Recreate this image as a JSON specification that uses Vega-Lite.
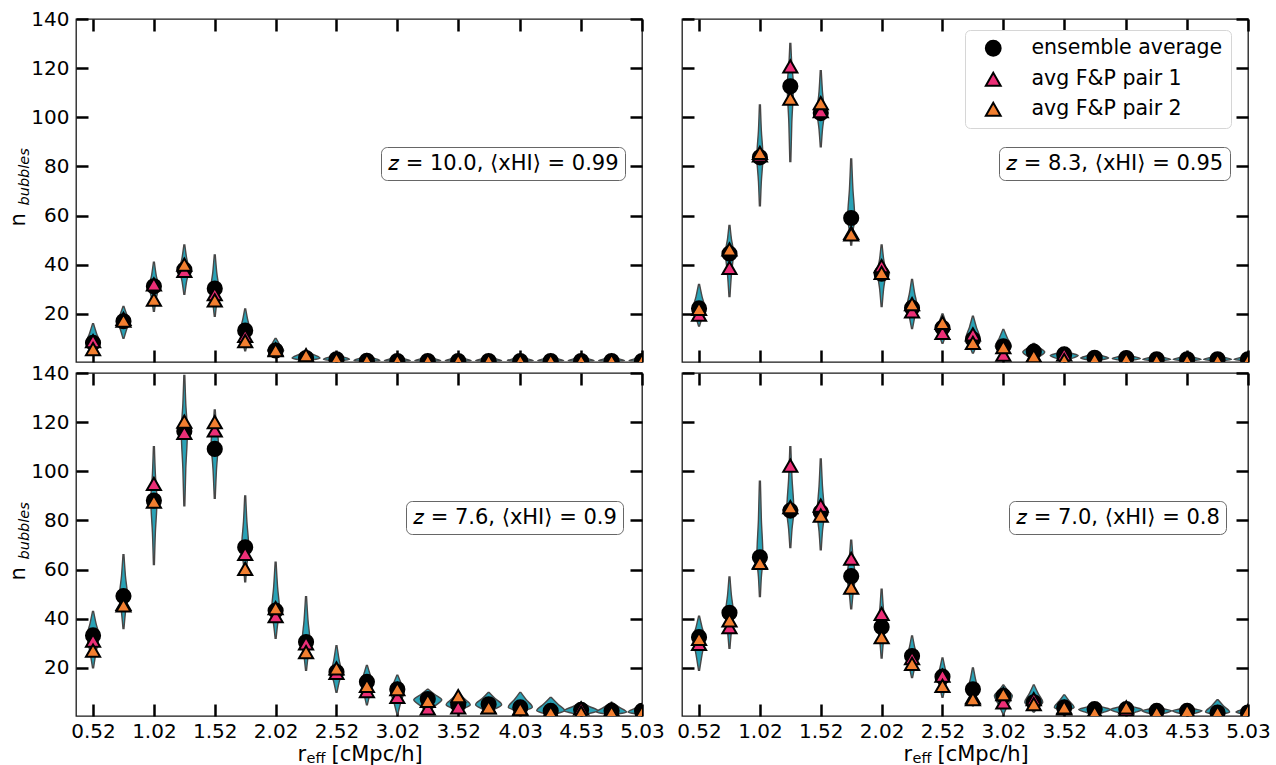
{
  "$schema": "https://vega.github.io/schema/vega-lite/v6.json",
  "background": "white",
  "padding": {"left": 6, "top": 8, "right": 3, "bottom": 0},
  "bounds": "flush",
  "columns": 2,
  "spacing": {"row": 11, "column": 40},
  "datasets": {
    "panels": [
      {"p":"a","lab":"𝑧 = 10.0, ⟨xHI⟩ = 0.99"},
      {"p":"b","lab":"𝑧 = 8.3, ⟨xHI⟩ = 0.95"},
      {"p":"c","lab":"𝑧 = 7.6, ⟨xHI⟩ = 0.9"},
      {"p":"d","lab":"𝑧 = 7.0, ⟨xHI⟩ = 0.8"}
    ],
    "violins": [
      {"p":"a","r":0.52,"vy":[3.5,5.75,8,12,16],"vw":[0.004,0.029,0.058,0.029,0.004]},
      {"p":"a","r":0.77,"vy":[10,13.5,17,20,23],"vw":[0.004,0.025,0.049,0.025,0.004]},
      {"p":"a","r":1.02,"vy":[21,26,31,36,41],"vw":[0.004,0.018,0.037,0.018,0.004]},
      {"p":"a","r":1.27,"vy":[28,33,38,43,48],"vw":[0.004,0.018,0.037,0.018,0.004]},
      {"p":"a","r":1.52,"vy":[19,24.5,30,37,44],"vw":[0.004,0.016,0.033,0.016,0.004]},
      {"p":"a","r":1.77,"vy":[5,9,13,17.5,22],"vw":[0.004,0.021,0.041,0.021,0.004]},
      {"p":"a","r":2.02,"vy":[2.5,3.75,5,7.5,10],"vw":[0.004,0.033,0.066,0.033,0.004]},
      {"p":"a","r":2.27,"vy":[0.5,1.25,2,3.5,5],"vw":[0.004,0.058,0.115,0.058,0.004]},
      {"p":"a","r":2.52,"vy":[0.5,1,1.5,2.5,3.5],"vw":[0.004,0.053,0.107,0.053,0.004]},
      {"p":"a","r":2.77,"vy":[0.5,0.75,1,2,3],"vw":[0.004,0.053,0.107,0.053,0.004]},
      {"p":"a","r":3.02,"vy":[0.5,0.75,1,1.75,2.5],"vw":[0.004,0.053,0.107,0.053,0.004]},
      {"p":"a","r":3.27,"vy":[0.5,0.75,1,1.75,2.5],"vw":[0.004,0.053,0.107,0.053,0.004]},
      {"p":"a","r":3.52,"vy":[0.5,0.75,1,1.75,2.5],"vw":[0.004,0.053,0.107,0.053,0.004]},
      {"p":"a","r":3.77,"vy":[0.5,0.75,1,1.75,2.5],"vw":[0.004,0.053,0.107,0.053,0.004]},
      {"p":"a","r":4.03,"vy":[0.5,0.75,1,1.75,2.5],"vw":[0.004,0.053,0.107,0.053,0.004]},
      {"p":"a","r":4.28,"vy":[0.5,0.75,1,1.75,2.5],"vw":[0.004,0.053,0.107,0.053,0.004]},
      {"p":"a","r":4.53,"vy":[0.5,0.75,1,1.75,2.5],"vw":[0.004,0.053,0.107,0.053,0.004]},
      {"p":"a","r":4.78,"vy":[0.5,0.75,1,1.75,2.5],"vw":[0.004,0.053,0.107,0.053,0.004]},
      {"p":"a","r":5.03,"vy":[0.5,0.75,1,1.75,2.5],"vw":[0.004,0.053,0.107,0.053,0.004]},

      {"p":"b","r":0.52,"vy":[15,18.5,22,27,32],"vw":[0.004,0.025,0.049,0.025,0.004]},
      {"p":"b","r":0.77,"vy":[27,36,45,50.5,56],"vw":[0.004,0.016,0.033,0.016,0.004]},
      {"p":"b","r":1.02,"vy":[64,74,84,94.5,105],"vw":[0.004,0.012,0.025,0.012,0.004]},
      {"p":"b","r":1.27,"vy":[82,97.5,113,121.5,130],"vw":[0.004,0.012,0.025,0.012,0.004]},
      {"p":"b","r":1.52,"vy":[88,95,102,110.5,119],"vw":[0.004,0.014,0.029,0.014,0.004]},
      {"p":"b","r":1.77,"vy":[48,53.5,59,71,83],"vw":[0.004,0.014,0.029,0.014,0.004]},
      {"p":"b","r":2.02,"vy":[23,30,37,42.5,48],"vw":[0.004,0.016,0.033,0.016,0.004]},
      {"p":"b","r":2.27,"vy":[14,18.5,23,28.5,34],"vw":[0.004,0.021,0.041,0.021,0.004]},
      {"p":"b","r":2.52,"vy":[8,11,14,17,20],"vw":[0.004,0.025,0.049,0.025,0.004]},
      {"p":"b","r":2.77,"vy":[4,7,10,14.5,19],"vw":[0.004,0.029,0.058,0.029,0.004]},
      {"p":"b","r":3.02,"vy":[1.4,4.1,6.8,10.2,13.6],"vw":[0.004,0.033,0.066,0.033,0.004]},
      {"p":"b","r":3.27,"vy":[0.5,2.5,4.5,6.25,8],"vw":[0.004,0.045,0.09,0.045,0.004]},
      {"p":"b","r":3.52,"vy":[0.5,1.75,3,4,5],"vw":[0.004,0.058,0.115,0.058,0.004]},
      {"p":"b","r":3.77,"vy":[0.5,1.25,2,3,4],"vw":[0.004,0.058,0.115,0.058,0.004]},
      {"p":"b","r":4.03,"vy":[0.5,1.15,1.8,2.65,3.5],"vw":[0.004,0.058,0.115,0.058,0.004]},
      {"p":"b","r":4.28,"vy":[0.5,1,1.5,2.25,3],"vw":[0.004,0.058,0.115,0.058,0.004]},
      {"p":"b","r":4.53,"vy":[0.5,1,1.5,2.25,3],"vw":[0.004,0.058,0.115,0.058,0.004]},
      {"p":"b","r":4.78,"vy":[0.5,1,1.5,2.25,3],"vw":[0.004,0.058,0.115,0.058,0.004]},
      {"p":"b","r":5.03,"vy":[0.5,1,1.5,2.25,3],"vw":[0.004,0.058,0.115,0.058,0.004]},

      {"p":"c","r":0.52,"vy":[20,26.5,33,38,43],"vw":[0.004,0.025,0.049,0.025,0.004]},
      {"p":"c","r":0.77,"vy":[36,42.5,49,57.5,66],"vw":[0.004,0.016,0.033,0.016,0.004]},
      {"p":"c","r":1.02,"vy":[62,75,88,99,110],"vw":[0.004,0.012,0.025,0.012,0.004]},
      {"p":"c","r":1.27,"vy":[86,101,116,127.5,139],"vw":[0.004,0.012,0.025,0.012,0.004]},
      {"p":"c","r":1.52,"vy":[89,100.5,112,118.5,125],"vw":[0.004,0.014,0.029,0.014,0.004]},
      {"p":"c","r":1.77,"vy":[55,62,69,79.5,90],"vw":[0.004,0.014,0.029,0.014,0.004]},
      {"p":"c","r":2.02,"vy":[32,37.5,43,53,63],"vw":[0.004,0.016,0.033,0.016,0.004]},
      {"p":"c","r":2.27,"vy":[19,24.5,30,39.5,49],"vw":[0.004,0.016,0.033,0.016,0.004]},
      {"p":"c","r":2.52,"vy":[10,14,18,23.5,29],"vw":[0.004,0.021,0.041,0.021,0.004]},
      {"p":"c","r":2.77,"vy":[5,9.5,14,17.5,21],"vw":[0.004,0.025,0.049,0.025,0.004]},
      {"p":"c","r":3.02,"vy":[1.2,6.1,11,14,17],"vw":[0.004,0.029,0.058,0.029,0.004]},
      {"p":"c","r":3.27,"vy":[2,4.5,7,9.15,11.3],"vw":[0.004,0.058,0.115,0.058,0.004]},
      {"p":"c","r":3.52,"vy":[2,3.5,5,7.5,10],"vw":[0.004,0.049,0.099,0.049,0.004]},
      {"p":"c","r":3.77,"vy":[1.5,3.25,5,7.5,10],"vw":[0.004,0.053,0.107,0.053,0.004]},
      {"p":"c","r":4.03,"vy":[1.5,2.75,4,7,10],"vw":[0.004,0.049,0.099,0.049,0.004]},
      {"p":"c","r":4.28,"vy":[0.5,1.5,2.5,5.25,8],"vw":[0.004,0.058,0.115,0.058,0.004]},
      {"p":"c","r":4.53,"vy":[0.5,1.5,2.5,4.25,6],"vw":[0.004,0.07,0.14,0.07,0.004]},
      {"p":"c","r":4.78,"vy":[0.5,1.25,2,4,6],"vw":[0.004,0.062,0.123,0.062,0.004]},
      {"p":"c","r":5.03,"vy":[0.5,1.25,2,3.5,5],"vw":[0.004,0.058,0.115,0.058,0.004]},

      {"p":"d","r":0.52,"vy":[19,25.5,32,36.5,41],"vw":[0.004,0.025,0.049,0.025,0.004]},
      {"p":"d","r":0.77,"vy":[28,35,42,49.5,57],"vw":[0.004,0.016,0.033,0.016,0.004]},
      {"p":"d","r":1.02,"vy":[49,57,65,80.5,96],"vw":[0.004,0.012,0.025,0.012,0.004]},
      {"p":"d","r":1.27,"vy":[69,76.5,84,97,110],"vw":[0.004,0.014,0.029,0.014,0.004]},
      {"p":"d","r":1.52,"vy":[68,75.5,83,94,105],"vw":[0.004,0.014,0.029,0.014,0.004]},
      {"p":"d","r":1.77,"vy":[44,50.5,57,64.5,72],"vw":[0.004,0.016,0.033,0.016,0.004]},
      {"p":"d","r":2.02,"vy":[24,30.5,37,44.5,52],"vw":[0.004,0.014,0.029,0.014,0.004]},
      {"p":"d","r":2.27,"vy":[16,20,24,28.5,33],"vw":[0.004,0.021,0.041,0.021,0.004]},
      {"p":"d","r":2.52,"vy":[8,12,16,20,24],"vw":[0.004,0.021,0.041,0.021,0.004]},
      {"p":"d","r":2.77,"vy":[4.6,7.8,11,15.5,20],"vw":[0.004,0.021,0.041,0.021,0.004]},
      {"p":"d","r":3.02,"vy":[1.2,4.9,8.6,10.8,13],"vw":[0.004,0.037,0.074,0.037,0.004]},
      {"p":"d","r":3.27,"vy":[2,4,6,9.5,13],"vw":[0.004,0.037,0.074,0.037,0.004]},
      {"p":"d","r":3.52,"vy":[1.5,2.75,4,6.5,9],"vw":[0.004,0.041,0.082,0.041,0.004]},
      {"p":"d","r":3.77,"vy":[0.5,1.75,3,4,5],"vw":[0.004,0.066,0.131,0.066,0.004]},
      {"p":"d","r":4.03,"vy":[0.5,1.75,3,4,5],"vw":[0.004,0.066,0.131,0.066,0.004]},
      {"p":"d","r":4.28,"vy":[0.5,1.5,2.5,3.25,4],"vw":[0.004,0.062,0.123,0.062,0.004]},
      {"p":"d","r":4.53,"vy":[0.5,1.5,2.5,3.25,4],"vw":[0.004,0.062,0.123,0.062,0.004]},
      {"p":"d","r":4.78,"vy":[0.5,1.25,2,4.5,7],"vw":[0.004,0.049,0.099,0.049,0.004]},
      {"p":"d","r":5.03,"vy":[0.5,1.25,2,3,4],"vw":[0.004,0.049,0.099,0.049,0.004]}
    ],
    "markers": [
      {"p":"a","r":0.52,"ensemble average":8.2,"avg F&P pair 1":8.9,"avg F&P pair 2":5.6},
      {"p":"a","r":0.77,"ensemble average":17,"avg F&P pair 1":18,"avg F&P pair 2":17.2},
      {"p":"a","r":1.02,"ensemble average":31.2,"avg F&P pair 1":32,"avg F&P pair 2":25.8},
      {"p":"a","r":1.27,"ensemble average":38,"avg F&P pair 1":37.5,"avg F&P pair 2":40},
      {"p":"a","r":1.52,"ensemble average":30.3,"avg F&P pair 1":28,"avg F&P pair 2":25.5},
      {"p":"a","r":1.77,"ensemble average":13.2,"avg F&P pair 1":11,"avg F&P pair 2":8.9},
      {"p":"a","r":2.02,"ensemble average":5.1,"avg F&P pair 1":5.5,"avg F&P pair 2":5.2},
      {"p":"a","r":2.27,"ensemble average":2,"avg F&P pair 1":1,"avg F&P pair 2":3.2},
      {"p":"a","r":2.52,"ensemble average":1.5,"avg F&P pair 1":1,"avg F&P pair 2":1.6},
      {"p":"a","r":2.77,"ensemble average":0.9,"avg F&P pair 1":0.7,"avg F&P pair 2":1},
      {"p":"a","r":3.02,"ensemble average":0.8,"avg F&P pair 1":0.6,"avg F&P pair 2":0.9},
      {"p":"a","r":3.27,"ensemble average":0.8,"avg F&P pair 1":0.6,"avg F&P pair 2":0.9},
      {"p":"a","r":3.52,"ensemble average":0.8,"avg F&P pair 1":0.6,"avg F&P pair 2":0.9},
      {"p":"a","r":3.77,"ensemble average":0.8,"avg F&P pair 1":0.6,"avg F&P pair 2":0.9},
      {"p":"a","r":4.03,"ensemble average":0.8,"avg F&P pair 1":0.6,"avg F&P pair 2":0.9},
      {"p":"a","r":4.28,"ensemble average":0.8,"avg F&P pair 1":0.6,"avg F&P pair 2":0.9},
      {"p":"a","r":4.53,"ensemble average":0.8,"avg F&P pair 1":0.6,"avg F&P pair 2":0.9},
      {"p":"a","r":4.78,"ensemble average":0.8,"avg F&P pair 1":0.6,"avg F&P pair 2":0.9},
      {"p":"a","r":5.03,"ensemble average":0.8,"avg F&P pair 1":0.6,"avg F&P pair 2":0.9},

      {"p":"b","r":0.52,"ensemble average":22.2,"avg F&P pair 1":19.7,"avg F&P pair 2":22},
      {"p":"b","r":0.77,"ensemble average":44.5,"avg F&P pair 1":38.7,"avg F&P pair 2":46.2},
      {"p":"b","r":1.02,"ensemble average":83.7,"avg F&P pair 1":84.5,"avg F&P pair 2":85.5},
      {"p":"b","r":1.27,"ensemble average":112.6,"avg F&P pair 1":120.7,"avg F&P pair 2":107.6},
      {"p":"b","r":1.52,"ensemble average":101.7,"avg F&P pair 1":102.5,"avg F&P pair 2":105.8},
      {"p":"b","r":1.77,"ensemble average":59,"avg F&P pair 1":53,"avg F&P pair 2":52.3},
      {"p":"b","r":2.02,"ensemble average":36.3,"avg F&P pair 1":39.4,"avg F&P pair 2":36.7},
      {"p":"b","r":2.27,"ensemble average":22.4,"avg F&P pair 1":21,"avg F&P pair 2":24},
      {"p":"b","r":2.52,"ensemble average":14.3,"avg F&P pair 1":12.3,"avg F&P pair 2":16.3},
      {"p":"b","r":2.77,"ensemble average":9.6,"avg F&P pair 1":11.6,"avg F&P pair 2":8.2},
      {"p":"b","r":3.02,"ensemble average":6.8,"avg F&P pair 1":3.4,"avg F&P pair 2":6.5},
      {"p":"b","r":3.27,"ensemble average":4.6,"avg F&P pair 1":3,"avg F&P pair 2":2.8},
      {"p":"b","r":3.52,"ensemble average":3.5,"avg F&P pair 1":3.5,"avg F&P pair 2":1.2},
      {"p":"b","r":3.77,"ensemble average":2.1,"avg F&P pair 1":1.6,"avg F&P pair 2":1.5},
      {"p":"b","r":4.03,"ensemble average":2,"avg F&P pair 1":1.5,"avg F&P pair 2":1.5},
      {"p":"b","r":4.28,"ensemble average":1.5,"avg F&P pair 1":1.2,"avg F&P pair 2":1},
      {"p":"b","r":4.53,"ensemble average":1.5,"avg F&P pair 1":1.2,"avg F&P pair 2":1},
      {"p":"b","r":4.78,"ensemble average":1.5,"avg F&P pair 1":1.2,"avg F&P pair 2":1},
      {"p":"b","r":5.03,"ensemble average":1.5,"avg F&P pair 1":1.2,"avg F&P pair 2":1},

      {"p":"c","r":0.52,"ensemble average":33.2,"avg F&P pair 1":31.1,"avg F&P pair 2":27},
      {"p":"c","r":0.77,"ensemble average":49.2,"avg F&P pair 1":46,"avg F&P pair 2":45.4},
      {"p":"c","r":1.02,"ensemble average":88.1,"avg F&P pair 1":94.9,"avg F&P pair 2":87.7},
      {"p":"c","r":1.27,"ensemble average":116.3,"avg F&P pair 1":115.6,"avg F&P pair 2":120.2},
      {"p":"c","r":1.52,"ensemble average":109.1,"avg F&P pair 1":116.6,"avg F&P pair 2":120},
      {"p":"c","r":1.77,"ensemble average":69.1,"avg F&P pair 1":66.4,"avg F&P pair 2":60.3},
      {"p":"c","r":2.02,"ensemble average":43.3,"avg F&P pair 1":41,"avg F&P pair 2":44.3},
      {"p":"c","r":2.27,"ensemble average":30.5,"avg F&P pair 1":30,"avg F&P pair 2":26.4},
      {"p":"c","r":2.52,"ensemble average":18.3,"avg F&P pair 1":18,"avg F&P pair 2":19.8},
      {"p":"c","r":2.77,"ensemble average":14.3,"avg F&P pair 1":10.5,"avg F&P pair 2":12.7},
      {"p":"c","r":3.02,"ensemble average":11.3,"avg F&P pair 1":8.2,"avg F&P pair 2":11.3},
      {"p":"c","r":3.27,"ensemble average":7.3,"avg F&P pair 1":3.5,"avg F&P pair 2":6.6},
      {"p":"c","r":3.52,"ensemble average":5,"avg F&P pair 1":3.9,"avg F&P pair 2":8.5},
      {"p":"c","r":3.77,"ensemble average":5.2,"avg F&P pair 1":4,"avg F&P pair 2":3.9},
      {"p":"c","r":4.03,"ensemble average":3.9,"avg F&P pair 1":3.5,"avg F&P pair 2":3.2},
      {"p":"c","r":4.28,"ensemble average":2.5,"avg F&P pair 1":2.5,"avg F&P pair 2":1.8},
      {"p":"c","r":4.53,"ensemble average":2.9,"avg F&P pair 1":3.5,"avg F&P pair 2":1.8},
      {"p":"c","r":4.78,"ensemble average":2.5,"avg F&P pair 1":3,"avg F&P pair 2":1.8},
      {"p":"c","r":5.03,"ensemble average":2.5,"avg F&P pair 1":2.2,"avg F&P pair 2":1.8},

      {"p":"d","r":0.52,"ensemble average":32.5,"avg F&P pair 1":29.8,"avg F&P pair 2":31.8},
      {"p":"d","r":0.77,"ensemble average":42.4,"avg F&P pair 1":36.6,"avg F&P pair 2":39.3},
      {"p":"d","r":1.02,"ensemble average":65,"avg F&P pair 1":63,"avg F&P pair 2":62.7},
      {"p":"d","r":1.27,"ensemble average":84,"avg F&P pair 1":102.3,"avg F&P pair 2":85.4},
      {"p":"d","r":1.52,"ensemble average":83.3,"avg F&P pair 1":86,"avg F&P pair 2":82},
      {"p":"d","r":1.77,"ensemble average":57.3,"avg F&P pair 1":64.4,"avg F&P pair 2":52.6},
      {"p":"d","r":2.02,"ensemble average":36.6,"avg F&P pair 1":42,"avg F&P pair 2":32.5},
      {"p":"d","r":2.27,"ensemble average":24.8,"avg F&P pair 1":24,"avg F&P pair 2":21.6},
      {"p":"d","r":2.52,"ensemble average":16.4,"avg F&P pair 1":16.8,"avg F&P pair 2":12.7},
      {"p":"d","r":2.77,"ensemble average":11.3,"avg F&P pair 1":8,"avg F&P pair 2":7.3},
      {"p":"d","r":3.02,"ensemble average":8.6,"avg F&P pair 1":5.9,"avg F&P pair 2":9.3},
      {"p":"d","r":3.27,"ensemble average":6,"avg F&P pair 1":7.3,"avg F&P pair 2":5.2},
      {"p":"d","r":3.52,"ensemble average":3.9,"avg F&P pair 1":3.5,"avg F&P pair 2":3.9},
      {"p":"d","r":3.77,"ensemble average":3.2,"avg F&P pair 1":2.5,"avg F&P pair 2":1.8},
      {"p":"d","r":4.03,"ensemble average":3.2,"avg F&P pair 1":3,"avg F&P pair 2":3.9},
      {"p":"d","r":4.28,"ensemble average":2.5,"avg F&P pair 1":2,"avg F&P pair 2":1.8},
      {"p":"d","r":4.53,"ensemble average":2.5,"avg F&P pair 1":2.2,"avg F&P pair 2":2.5},
      {"p":"d","r":4.78,"ensemble average":1.8,"avg F&P pair 1":1.5,"avg F&P pair 2":1.8},
      {"p":"d","r":5.03,"ensemble average":1.8,"avg F&P pair 1":1.5,"avg F&P pair 2":2.5}
    ]
  },
  "concat": [
    {
      "width": 566, "height": 343,
      "resolve": {"axis": {"x": "independent", "y": "independent"}},
      "layer": [
        {
          "data": {"name": "violins"},
          "transform": [{"filter": "datum.p == 'a'"}, {"flatten": ["vy", "vw"]}, {"calculate": "datum.r - datum.vw", "as": "lo"}, {"calculate": "datum.r + datum.vw", "as": "hi"}],
          "mark": {"type": "area", "orient": "horizontal", "fill": "#29a2b6", "stroke": "#474747", "strokeWidth": 1.4, "opacity": 1, "interpolate": "monotone", "clip": true},
          "encoding": {
            "y": {"field": "vy", "type": "quantitative", "scale": {"domain": [0.4, 140], "nice": false, "zero": false},
                  "axis": {"orient": "left", "values": [20,40,60,80,100,120,140], "title": "n", "titleFontSize": 21, "titleAngle": 270, "titleX": -52, "titleY": 207, "titleAlign": "left", "titleBaseline": "alphabetic"}},
            "x": {"field": "lo", "type": "quantitative", "scale": {"domain": [0.38, 5.03], "nice": false, "zero": false},
                  "axis": {"orient": "bottom", "values": [0.52,1.02,1.52,2.02,2.52,3.02,3.52,4.03,4.53,5.03], "labels": false, "title": null}},
            "x2": {"field": "hi"},
            "detail": {"field": "r", "type": "nominal"}
          }
        },
        {
          "data": {"name": "markers"},
          "transform": [{"filter": "datum.p == 'a'"}, {"fold": ["ensemble average", "avg F&P pair 1", "avg F&P pair 2"], "as": ["s", "n"]}],
          "mark": {"type": "point", "filled": true, "stroke": "black", "strokeWidth": 2, "size": 200, "opacity": 1, "clip": true},
          "encoding": {
            "x": {"field": "r", "type": "quantitative", "axis": {"orient": "top", "values": [0.52,1.02,1.52,2.02,2.52,3.02,3.52,4.03,4.53,5.03], "labels": false, "title": null}},
            "y": {"field": "n", "type": "quantitative", "axis": {"orient": "right", "values": [20,40,60,80,100,120,140], "labels": false, "title": "bubbles", "titleFontSize": 14.5, "titleFontStyle": "italic", "titleAngle": 270, "titleX": -614, "titleY": 186, "titleAlign": "left", "titleBaseline": "alphabetic"}},
            "color": {"field": "s", "type": "nominal", "scale": {"domain": ["ensemble average", "avg F&P pair 1", "avg F&P pair 2"], "range": ["black", "#ec2f77", "#f27f30"]}, "legend": null},
            "shape": {"field": "s", "type": "nominal", "scale": {"domain": ["ensemble average", "avg F&P pair 1", "avg F&P pair 2"], "range": ["circle", "triangle-up", "triangle-up"]}, "legend": null}
          }
        },
        {
          "data": {"name": "panels"},
          "transform": [{"filter": "datum.p == 'a'"}],
          "mark": {"type": "point", "opacity": 0},
          "encoding": {
            "strokeDash": {"field": "lab", "type": "nominal",
                           "legend": {"orient": "none", "legendX": 305, "legendY": 128, "title": null, "labelFontSize": 21, "symbolSize": 1, "symbolOpacity": 0, "symbolStrokeWidth": 0, "labelOffset": -20, "padding": 6, "strokeColor": "#666666", "cornerRadius": 6, "fillColor": "white"}}
          }
        }
      ]
    },
    {
      "width": 566, "height": 343,
      "resolve": {"axis": {"x": "independent", "y": "independent"}},
      "layer": [
        {
          "data": {"name": "violins"},
          "transform": [{"filter": "datum.p == 'b'"}, {"flatten": ["vy", "vw"]}, {"calculate": "datum.r - datum.vw", "as": "lo"}, {"calculate": "datum.r + datum.vw", "as": "hi"}],
          "mark": {"type": "area", "orient": "horizontal", "fill": "#29a2b6", "stroke": "#474747", "strokeWidth": 1.4, "opacity": 1, "interpolate": "monotone", "clip": true},
          "encoding": {
            "y": {"field": "vy", "type": "quantitative", "scale": {"domain": [0.4, 140], "nice": false, "zero": false},
                  "axis": {"orient": "left", "values": [20,40,60,80,100,120,140], "labels": false, "title": null}},
            "x": {"field": "lo", "type": "quantitative", "scale": {"domain": [0.38, 5.03], "nice": false, "zero": false},
                  "axis": {"orient": "bottom", "values": [0.52,1.02,1.52,2.02,2.52,3.02,3.52,4.03,4.53,5.03], "labels": false, "title": null}},
            "x2": {"field": "hi"},
            "detail": {"field": "r", "type": "nominal"}
          }
        },
        {
          "data": {"name": "markers"},
          "transform": [{"filter": "datum.p == 'b'"}, {"fold": ["ensemble average", "avg F&P pair 1", "avg F&P pair 2"], "as": ["s", "n"]}],
          "mark": {"type": "point", "filled": true, "stroke": "black", "strokeWidth": 2, "size": 200, "opacity": 1, "clip": true},
          "encoding": {
            "x": {"field": "r", "type": "quantitative", "axis": {"orient": "top", "values": [0.52,1.02,1.52,2.02,2.52,3.02,3.52,4.03,4.53,5.03], "labels": false, "title": null}},
            "y": {"field": "n", "type": "quantitative", "axis": {"orient": "right", "values": [20,40,60,80,100,120,140], "labels": false, "title": null}},
            "color": {"field": "s", "type": "nominal", "scale": {"domain": ["ensemble average", "avg F&P pair 1", "avg F&P pair 2"], "range": ["black", "#ec2f77", "#f27f30"]},
                      "legend": {"orient": "none", "legendX": 283, "legendY": 11, "title": null, "labelFontSize": 20.5, "symbolSize": 220, "symbolStrokeColor": "black", "symbolStrokeWidth": 2, "symbolOffset": 10, "rowPadding": 8, "labelOffset": 28, "padding": 8, "strokeColor": "#d6d6d6", "cornerRadius": 5, "fillColor": "white"}},
            "shape": {"field": "s", "type": "nominal", "scale": {"domain": ["ensemble average", "avg F&P pair 1", "avg F&P pair 2"], "range": ["circle", "triangle-up", "triangle-up"]},
                      "legend": {"orient": "none", "legendX": 283, "legendY": 11, "title": null, "labelFontSize": 20.5, "symbolSize": 220, "symbolStrokeColor": "black", "symbolStrokeWidth": 2, "symbolOffset": 10, "rowPadding": 8, "labelOffset": 28, "padding": 8, "strokeColor": "#d6d6d6", "cornerRadius": 5, "fillColor": "white"}}
          }
        },
        {
          "data": {"name": "panels"},
          "transform": [{"filter": "datum.p == 'b'"}],
          "mark": {"type": "point", "opacity": 0},
          "encoding": {
            "strokeDash": {"field": "lab", "type": "nominal",
                           "legend": {"orient": "none", "legendX": 317, "legendY": 128, "title": null, "labelFontSize": 21, "symbolSize": 1, "symbolOpacity": 0, "symbolStrokeWidth": 0, "labelOffset": -20, "padding": 6, "strokeColor": "#666666", "cornerRadius": 6, "fillColor": "white"}}
          }
        }
      ]
    },
    {
      "width": 566, "height": 343,
      "resolve": {"axis": {"x": "independent", "y": "independent"}},
      "layer": [
        {
          "data": {"name": "violins"},
          "transform": [{"filter": "datum.p == 'c'"}, {"flatten": ["vy", "vw"]}, {"calculate": "datum.r - datum.vw", "as": "lo"}, {"calculate": "datum.r + datum.vw", "as": "hi"}],
          "mark": {"type": "area", "orient": "horizontal", "fill": "#29a2b6", "stroke": "#474747", "strokeWidth": 1.4, "opacity": 1, "interpolate": "monotone", "clip": true},
          "encoding": {
            "y": {"field": "vy", "type": "quantitative", "scale": {"domain": [0.4, 140], "nice": false, "zero": false},
                  "axis": {"orient": "left", "values": [20,40,60,80,100,120,140], "title": "n", "titleFontSize": 21, "titleAngle": 270, "titleX": -52, "titleY": 207, "titleAlign": "left", "titleBaseline": "alphabetic"}},
            "x": {"field": "lo", "type": "quantitative", "scale": {"domain": [0.38, 5.03], "nice": false, "zero": false},
                  "axis": {"orient": "bottom", "values": [0.52,1.02,1.52,2.02,2.52,3.02,3.52,4.03,4.53,5.03], "format": ".2f", "title": "[cMpc/h]", "titleFontSize": 21, "titleX": 255, "titleY": 44, "titleAlign": "left", "titleBaseline": "alphabetic"}},
            "x2": {"field": "hi"},
            "detail": {"field": "r", "type": "nominal"}
          }
        },
        {
          "data": {"name": "markers"},
          "transform": [{"filter": "datum.p == 'c'"}, {"fold": ["ensemble average", "avg F&P pair 1", "avg F&P pair 2"], "as": ["s", "n"]}],
          "mark": {"type": "point", "filled": true, "stroke": "black", "strokeWidth": 2, "size": 200, "opacity": 1, "clip": true},
          "encoding": {
            "x": {"field": "r", "type": "quantitative", "axis": {"orient": "top", "values": [0.52,1.02,1.52,2.02,2.52,3.02,3.52,4.03,4.53,5.03], "labels": false, "title": "eff", "titleFontSize": 14.5, "titleX": 230, "titleY": 389, "titleAlign": "left", "titleBaseline": "alphabetic"}},
            "y": {"field": "n", "type": "quantitative", "axis": {"orient": "right", "values": [20,40,60,80,100,120,140], "labels": false, "title": "bubbles", "titleFontSize": 14.5, "titleFontStyle": "italic", "titleAngle": 270, "titleX": -614, "titleY": 186, "titleAlign": "left", "titleBaseline": "alphabetic"}},
            "color": {"field": "s", "type": "nominal", "scale": {"domain": ["ensemble average", "avg F&P pair 1", "avg F&P pair 2"], "range": ["black", "#ec2f77", "#f27f30"]}, "legend": null},
            "shape": {"field": "s", "type": "nominal", "scale": {"domain": ["ensemble average", "avg F&P pair 1", "avg F&P pair 2"], "range": ["circle", "triangle-up", "triangle-up"]}, "legend": null}
          }
        },
        {
          "data": {"name": "markers"},
          "transform": [{"filter": "datum.p == 'c'"}],
          "mark": {"type": "point", "opacity": 0},
          "encoding": {
            "x": {"field": "r", "type": "quantitative", "axis": {"orient": "bottom", "ticks": false, "labels": false, "domain": false, "title": "r", "titleFontSize": 21, "titleX": 221, "titleY": 44, "titleAlign": "left", "titleBaseline": "alphabetic"}}
          }
        },
        {
          "data": {"name": "panels"},
          "transform": [{"filter": "datum.p == 'c'"}],
          "mark": {"type": "point", "opacity": 0},
          "encoding": {
            "strokeDash": {"field": "lab", "type": "nominal",
                           "legend": {"orient": "none", "legendX": 330, "legendY": 128, "title": null, "labelFontSize": 21, "symbolSize": 1, "symbolOpacity": 0, "symbolStrokeWidth": 0, "labelOffset": -20, "padding": 6, "strokeColor": "#666666", "cornerRadius": 6, "fillColor": "white"}}
          }
        }
      ]
    },
    {
      "width": 566, "height": 343,
      "resolve": {"axis": {"x": "independent", "y": "independent"}},
      "layer": [
        {
          "data": {"name": "violins"},
          "transform": [{"filter": "datum.p == 'd'"}, {"flatten": ["vy", "vw"]}, {"calculate": "datum.r - datum.vw", "as": "lo"}, {"calculate": "datum.r + datum.vw", "as": "hi"}],
          "mark": {"type": "area", "orient": "horizontal", "fill": "#29a2b6", "stroke": "#474747", "strokeWidth": 1.4, "opacity": 1, "interpolate": "monotone", "clip": true},
          "encoding": {
            "y": {"field": "vy", "type": "quantitative", "scale": {"domain": [0.4, 140], "nice": false, "zero": false},
                  "axis": {"orient": "left", "values": [20,40,60,80,100,120,140], "labels": false, "title": null}},
            "x": {"field": "lo", "type": "quantitative", "scale": {"domain": [0.38, 5.03], "nice": false, "zero": false},
                  "axis": {"orient": "bottom", "values": [0.52,1.02,1.52,2.02,2.52,3.02,3.52,4.03,4.53,5.03], "format": ".2f", "title": "[cMpc/h]", "titleFontSize": 21, "titleX": 255, "titleY": 44, "titleAlign": "left", "titleBaseline": "alphabetic"}},
            "x2": {"field": "hi"},
            "detail": {"field": "r", "type": "nominal"}
          }
        },
        {
          "data": {"name": "markers"},
          "transform": [{"filter": "datum.p == 'd'"}, {"fold": ["ensemble average", "avg F&P pair 1", "avg F&P pair 2"], "as": ["s", "n"]}],
          "mark": {"type": "point", "filled": true, "stroke": "black", "strokeWidth": 2, "size": 200, "opacity": 1, "clip": true},
          "encoding": {
            "x": {"field": "r", "type": "quantitative", "axis": {"orient": "top", "values": [0.52,1.02,1.52,2.02,2.52,3.02,3.52,4.03,4.53,5.03], "labels": false, "title": "eff", "titleFontSize": 14.5, "titleX": 230, "titleY": 389, "titleAlign": "left", "titleBaseline": "alphabetic"}},
            "y": {"field": "n", "type": "quantitative", "axis": {"orient": "right", "values": [20,40,60,80,100,120,140], "labels": false, "title": null}},
            "color": {"field": "s", "type": "nominal", "scale": {"domain": ["ensemble average", "avg F&P pair 1", "avg F&P pair 2"], "range": ["black", "#ec2f77", "#f27f30"]}, "legend": null},
            "shape": {"field": "s", "type": "nominal", "scale": {"domain": ["ensemble average", "avg F&P pair 1", "avg F&P pair 2"], "range": ["circle", "triangle-up", "triangle-up"]}, "legend": null}
          }
        },
        {
          "data": {"name": "markers"},
          "transform": [{"filter": "datum.p == 'd'"}],
          "mark": {"type": "point", "opacity": 0},
          "encoding": {
            "x": {"field": "r", "type": "quantitative", "axis": {"orient": "bottom", "ticks": false, "labels": false, "domain": false, "title": "r", "titleFontSize": 21, "titleX": 221, "titleY": 44, "titleAlign": "left", "titleBaseline": "alphabetic"}}
          }
        },
        {
          "data": {"name": "panels"},
          "transform": [{"filter": "datum.p == 'd'"}],
          "mark": {"type": "point", "opacity": 0},
          "encoding": {
            "strokeDash": {"field": "lab", "type": "nominal",
                           "legend": {"orient": "none", "legendX": 327, "legendY": 128, "title": null, "labelFontSize": 21, "symbolSize": 1, "symbolOpacity": 0, "symbolStrokeWidth": 0, "labelOffset": -20, "padding": 6, "strokeColor": "#666666", "cornerRadius": 6, "fillColor": "white"}}
          }
        }
      ]
    }
  ],
  "resolve": {
    "scale": {"color": "independent", "shape": "independent", "strokeDash": "independent"},
    "legend": {"color": "independent", "shape": "independent", "strokeDash": "independent"}
  },
  "config": {
    "font": "DejaVu Sans",
    "view": {"stroke": "#1a1a1a", "strokeWidth": 1.3},
    "axis": {"domain": false, "grid": false, "ticks": true, "tickSize": -12, "tickWidth": 2.5, "tickColor": "black",
             "labelFont": "DejaVu Sans", "labelFontSize": 20, "labelColor": "black", "labelPadding": 19, "labelFlush": false, "labelOverlap": false,
             "titleFont": "DejaVu Sans", "titleColor": "black", "titleFontWeight": "normal"},
    "axisX": {"labelPadding": 17},
    "axisY": {"labelPadding": 19},
    "legend": {"labelFont": "DejaVu Sans", "labelColor": "black", "labelLimit": 500}
  }
}
